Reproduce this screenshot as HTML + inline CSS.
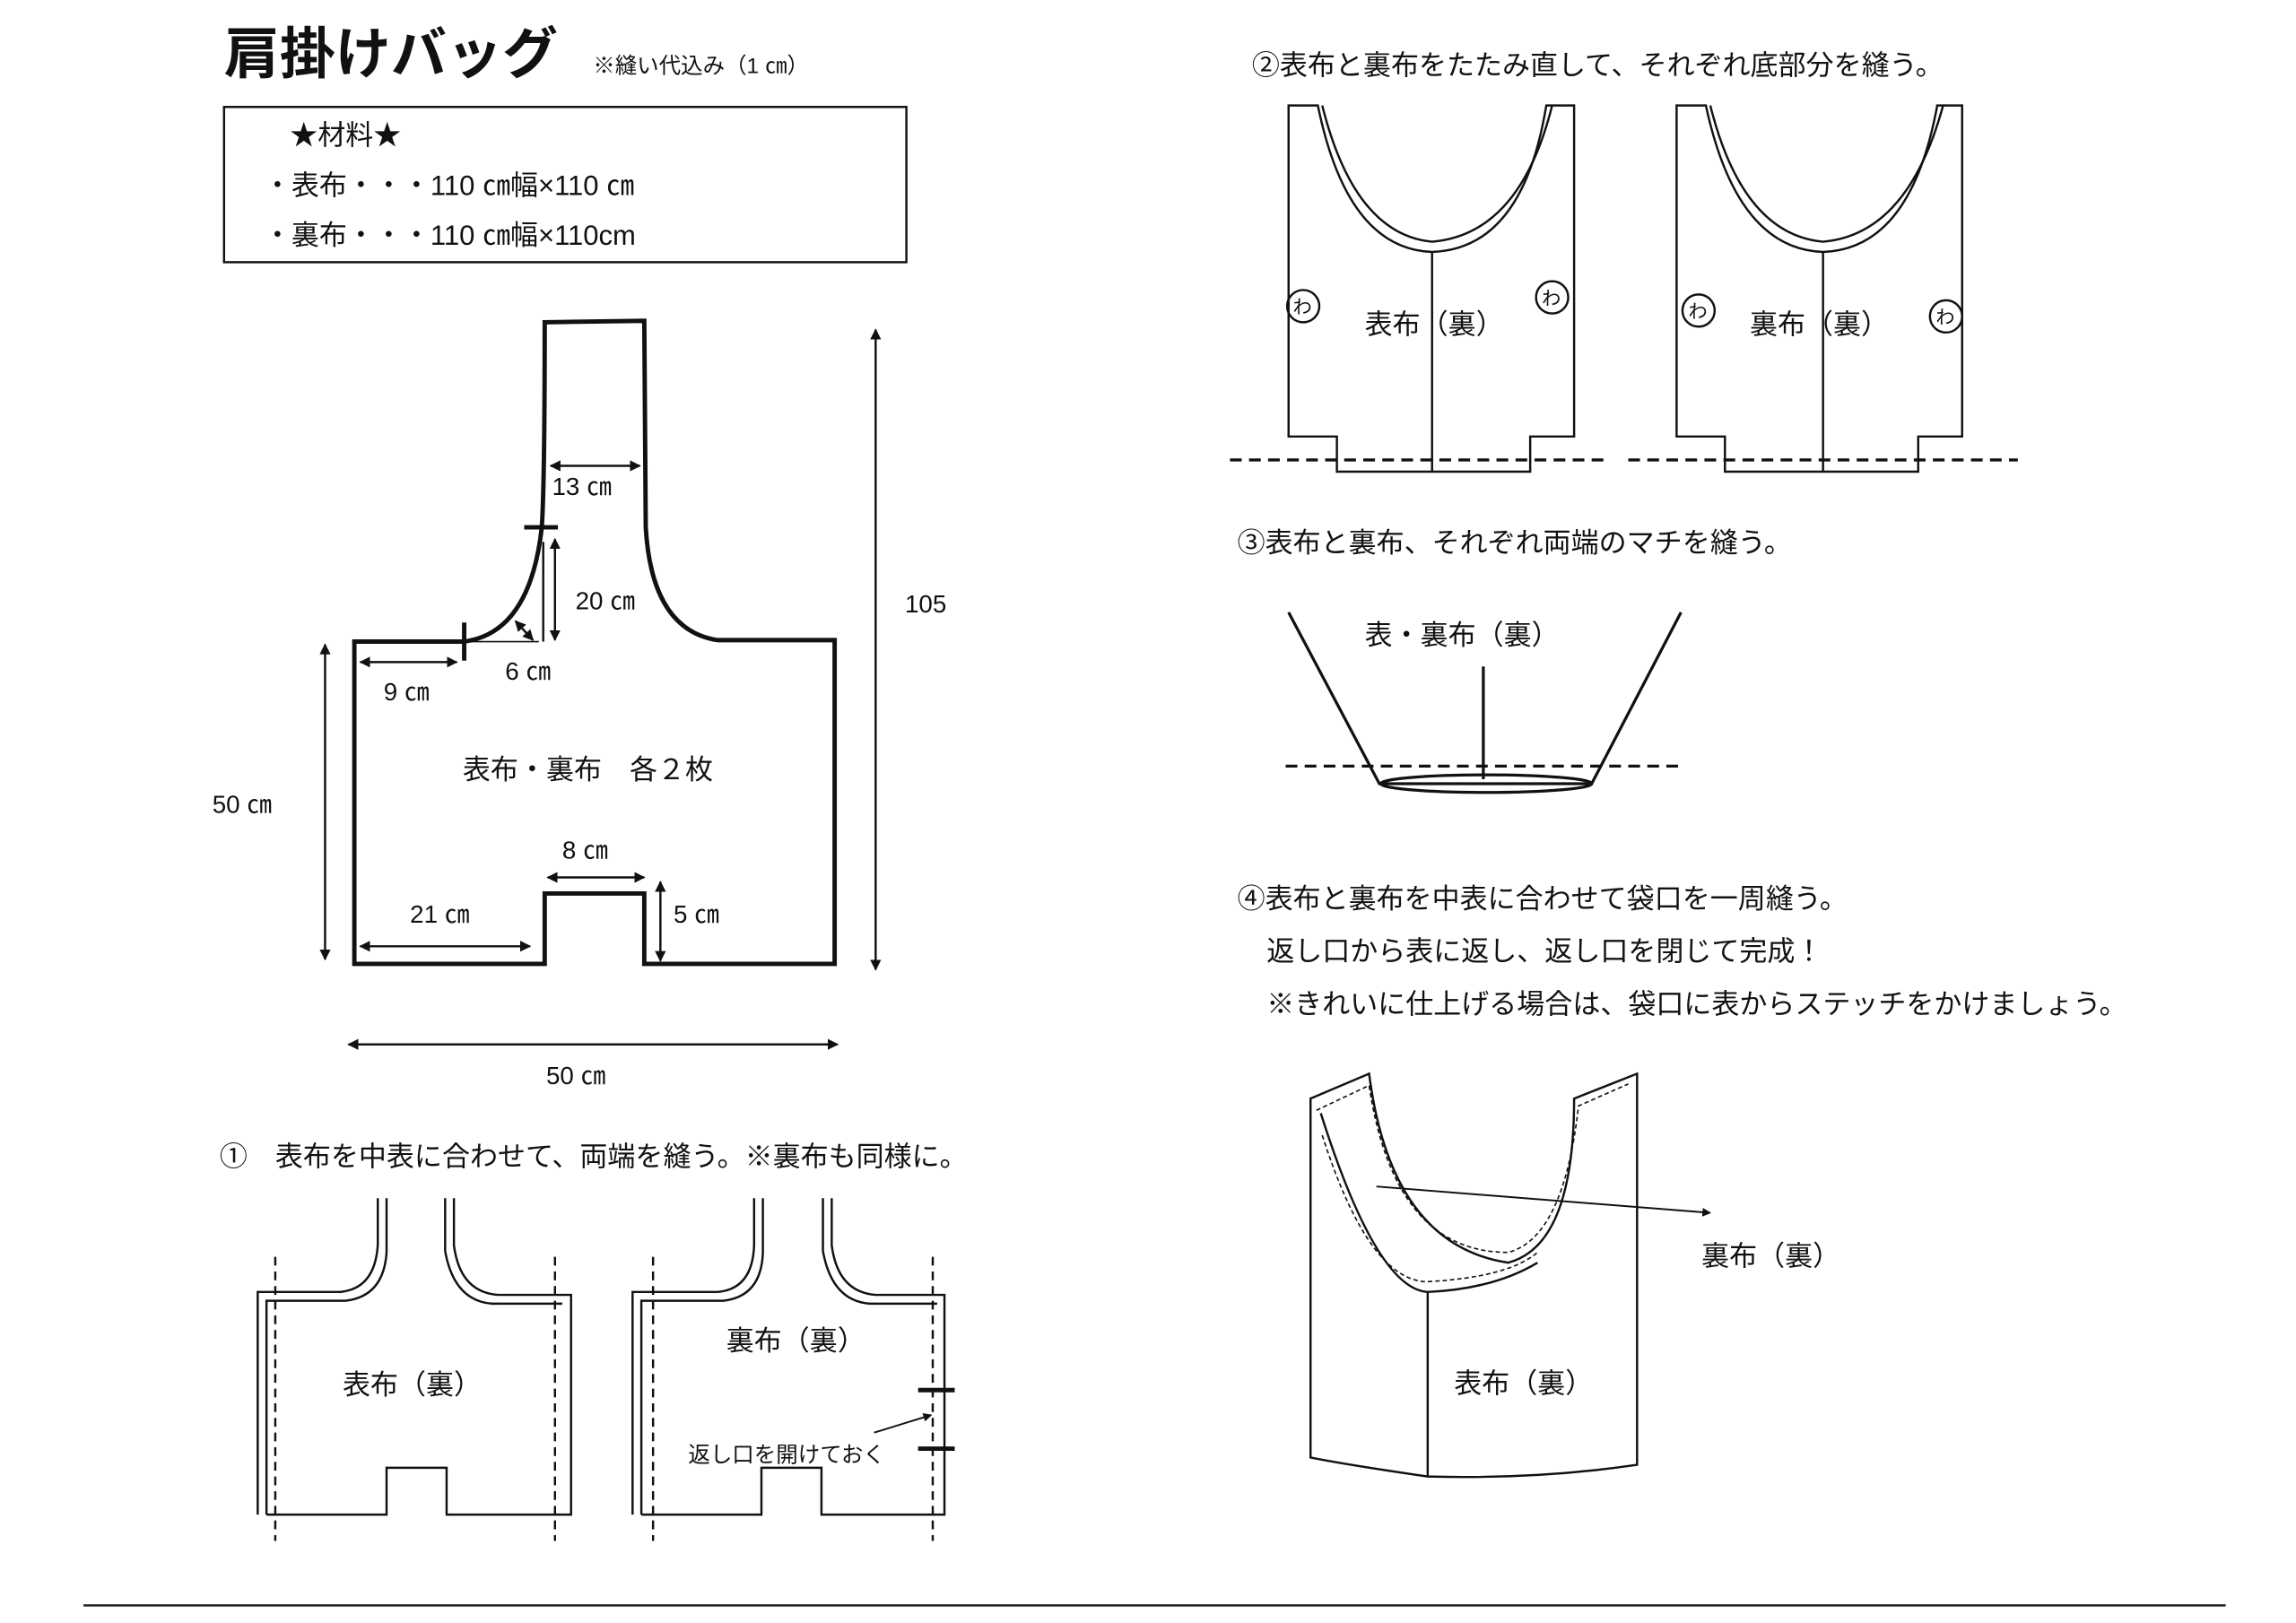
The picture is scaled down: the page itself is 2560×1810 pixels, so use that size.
<!DOCTYPE html>
<html><head><meta charset="utf-8"><style>
html,body{margin:0;padding:0;background:#fff;}
svg{display:block;}
text{font-family:"Liberation Sans","Noto Sans CJK JP",sans-serif;fill:#111;}
</style></head><body>
<svg width="2560" height="1810" viewBox="0 0 1568 1108" preserveAspectRatio="none" xmlns="http://www.w3.org/2000/svg">
<defs>
<marker id="a" viewBox="0 0 10 10" refX="9" refY="5" markerWidth="5" markerHeight="5" orient="auto-start-reverse"><path d="M0,0L10,5L0,10z" fill="#111"/></marker>
</defs>
<text x="153" y="50" font-size="38" font-weight="bold" textLength="228">肩掛けバッグ</text>
<text x="405" y="50" font-size="15">※縫い代込み（1 ㎝）</text>
<rect x="153" y="73" width="466" height="106" fill="none" stroke="#111" stroke-width="1.5"/>
<text x="198" y="99" font-size="19">★材料★</text>
<text x="180" y="133" font-size="19">・表布・・・110 ㎝幅×110 ㎝</text>
<text x="180" y="167" font-size="19">・裏布・・・110 ㎝幅×110cm</text>

<!-- pattern -->
<g stroke="#111" fill="none" stroke-width="3">
<path d="M242,438 L317,438 Q362,432 370,360 Q372,330 372,220 L440,219 L441,360 Q445,430 490,437 L570,437 L570,658 L440,658 L440,610 L372,610 L372,658 L242,658 Z"/>
</g>
<g stroke="#111" fill="none" stroke-width="1.5">
<line x1="598" y1="225" x2="598" y2="662" marker-start="url(#a)" marker-end="url(#a)"/>
<line x1="222" y1="440" x2="222" y2="655" marker-start="url(#a)" marker-end="url(#a)"/>
<line x1="238" y1="713" x2="572" y2="713" marker-start="url(#a)" marker-end="url(#a)"/>
<line x1="376" y1="318" x2="437" y2="318" marker-start="url(#a)" marker-end="url(#a)"/>
<line x1="379" y1="368" x2="379" y2="437" marker-start="url(#a)" marker-end="url(#a)"/>
<line x1="246" y1="452" x2="312" y2="452" marker-start="url(#a)" marker-end="url(#a)"/>
<line x1="352" y1="424" x2="364" y2="437" marker-start="url(#a)" marker-end="url(#a)"/>
<line x1="246" y1="646" x2="362" y2="646" marker-start="url(#a)" marker-end="url(#a)"/>
<line x1="374" y1="599" x2="440" y2="599" marker-start="url(#a)" marker-end="url(#a)"/>
<line x1="451" y1="602" x2="451" y2="656" marker-start="url(#a)" marker-end="url(#a)"/>
<line x1="371" y1="370" x2="371" y2="438"/>
<line x1="320" y1="438" x2="368" y2="438" stroke-width="1"/>
</g>
<g stroke="#111" stroke-width="3"><line x1="358" y1="360" x2="381" y2="360"/><line x1="317" y1="425" x2="317" y2="451"/></g>
<g font-size="17">
<text x="377" y="338">13 ㎝</text>
<text x="393" y="416">20 ㎝</text>
<text x="618" y="418">105</text>
<text x="262" y="478">9 ㎝</text>
<text x="345" y="464">6 ㎝</text>
<text x="145" y="555">50 ㎝</text>
<text x="316" y="532" font-size="19">表布・裏布　各２枚</text>
<text x="384" y="586">8 ㎝</text>
<text x="280" y="630">21 ㎝</text>
<text x="460" y="630">5 ㎝</text>
<text x="373" y="740">50 ㎝</text>
</g>

<!-- step 1 -->
<text x="150" y="796" font-size="19">①　表布を中表に合わせて、両端を縫う。※裏布も同様に。</text>
<g stroke="#111" fill="none" stroke-width="1.5">
<path d="M176,1034 L176,882 L232,882 Q256,880 258,850 L258,818"/>
<path d="M182,1034 L182,888 L236,888 Q262,885 264,855 L264,818"/>
<path d="M310,818 L310,850 Q314,882 340,884 L390,884 L390,1034 L305,1034 L305,1002 L264,1002 L264,1034 L182,1034"/>
<path d="M304,818 L304,854 Q310,888 336,890 L384,890"/>
<path d="M432,1034 L432,882 L490,882 Q514,880 515,850 L515,818"/>
<path d="M438,1034 L438,888 L494,888 Q520,885 521,855 L521,818"/>
<path d="M568,818 L568,850 Q572,882 598,884 L645,884 L645,1034 L561,1034 L561,1002 L520,1002 L520,1034 L438,1034"/>
<path d="M562,818 L562,854 Q568,888 594,890 L640,890"/>
</g>
<g stroke="#111" stroke-width="1.5" stroke-dasharray="6,4">
<line x1="188" y1="858" x2="188" y2="1052"/><line x1="379" y1="858" x2="379" y2="1052"/>
<line x1="446" y1="858" x2="446" y2="1052"/><line x1="637" y1="858" x2="637" y2="1052"/>
</g>
<g stroke="#111" stroke-width="3"><line x1="627" y1="949" x2="652" y2="949"/><line x1="627" y1="989" x2="652" y2="989"/></g>
<line x1="597" y1="978" x2="636" y2="966" stroke="#111" stroke-width="1.2" marker-end="url(#a)"/>
<text x="234" y="952" font-size="19">表布（裏）</text>
<text x="496" y="922" font-size="19">裏布（裏）</text>
<text x="470" y="998" font-size="15">返し口を開けておく</text>

<!-- step 2 -->
<text x="855" y="51" font-size="19">②表布と裏布をたたみ直して、それぞれ底部分を縫う。</text>
<g stroke="#111" fill="none" stroke-width="1.5">
<path d="M880,72 L880,298 L913,298 L913,322 L1045,322 L1045,298 L1075,298 L1075,72 L1056,72 Q1040,170 978,172 Q920,170 900,72 Z"/>
<path d="M903,72 Q925,160 978,165 Q1038,160 1060,72"/>
<line x1="978" y1="172" x2="978" y2="322"/>
<path d="M1145,72 L1145,298 L1178,298 L1178,322 L1310,322 L1310,298 L1340,298 L1340,72 L1323,72 Q1305,170 1245,172 Q1186,170 1165,72 Z"/>
<path d="M1168,72 Q1190,160 1245,165 Q1303,160 1327,72"/>
<line x1="1245" y1="172" x2="1245" y2="322"/>
<circle cx="890" cy="209" r="11"/><circle cx="1060" cy="203" r="11"/>
<circle cx="1160" cy="212" r="11"/><circle cx="1329" cy="216" r="11"/>
</g>
<g font-size="13"><text x="883" y="214">わ</text><text x="1053" y="208">わ</text><text x="1153" y="217">わ</text><text x="1322" y="221">わ</text></g>
<g stroke="#111" stroke-width="2" stroke-dasharray="8,5"><line x1="840" y1="314" x2="1100" y2="314"/><line x1="1112" y1="314" x2="1378" y2="314"/></g>
<text x="932" y="228" font-size="19">表布（裏）</text>
<text x="1195" y="228" font-size="19">裏布（裏）</text>

<!-- step 3 -->
<text x="845" y="377" font-size="19">③表布と裏布、それぞれ両端のマチを縫う。</text>
<g stroke="#111" fill="none" stroke-width="2">
<polyline points="880,418 942,535 1087,535 1148,418"/>
<ellipse cx="1015" cy="535" rx="72" ry="6"/>
<line x1="1013" y1="455" x2="1013" y2="532"/>
</g>
<line x1="878" y1="523" x2="1146" y2="523" stroke="#111" stroke-width="2" stroke-dasharray="8,5"/>
<text x="932" y="440" font-size="19">表・裏布（裏）</text>

<!-- step 4 -->
<text x="845" y="620" font-size="19">④表布と裏布を中表に合わせて袋口を一周縫う。</text>
<text x="865" y="656" font-size="19">返し口から表に返し、返し口を閉じて完成！</text>
<text x="865" y="692" font-size="19">※きれいに仕上げる場合は、袋口に表からステッチをかけましょう。</text>
<g stroke="#111" fill="none" stroke-width="1.5">
<path d="M895,750 L935,733 Q950,850 1030,862 Q1075,850 1075,750 L1118,733 L1118,1000 Q1050,1010 975,1008 Q920,1000 895,995 Z"/>
<path d="M902,760 Q940,880 975,882 L975,1008"/>
<path d="M975,882 Q1020,880 1050,862"/>
</g>
<g stroke="#111" fill="none" stroke-width="1" stroke-dasharray="3,2">
<path d="M899,758 L935,741 Q952,855 1030,855 Q1068,845 1078,755 L1112,740"/>
<path d="M903,775 Q935,875 975,875 Q1030,872 1050,855"/>
</g>
<line x1="940" y1="810" x2="1168" y2="828" stroke="#111" stroke-width="1.2" marker-end="url(#a)"/>
<text x="1162" y="864" font-size="19">裏布（裏）</text>
<text x="993" y="951" font-size="19">表布（裏）</text>

<line x1="57" y1="1096" x2="1520" y2="1096" stroke="#222" stroke-width="1.5"/>
</svg>
</body></html>
